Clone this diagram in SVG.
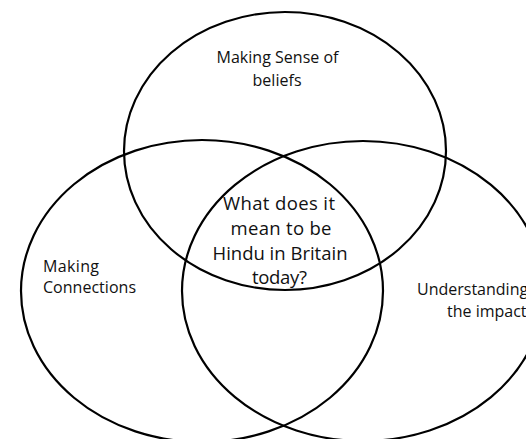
<svg xmlns="http://www.w3.org/2000/svg" width="526" height="439" viewBox="0 0 526 439">
  <style>
    .ring { fill: none; stroke: #000; stroke-width: 2.2; }
    .lbl { font-family: "Open Sans", "Liberation Sans", sans-serif; font-size: 16px; fill: #111; }
    .big { font-family: "Open Sans", "Liberation Sans", sans-serif; font-size: 18.5px; fill: #111; }
    .mid { text-anchor: middle; }
  </style>
  <rect x="0" y="0" width="526" height="439" fill="#fff"/>
  <g id="node-beliefs">
    <ellipse class="ring" cx="285" cy="151" rx="161" ry="139"/>
    <text class="lbl mid" x="277.5" y="63" textLength="122">Making Sense of</text>
    <text class="lbl mid" x="277" y="86" textLength="49">beliefs</text>
  </g>
  <g id="node-connections">
    <ellipse class="ring" cx="202" cy="291" rx="181" ry="151"/>
    <text class="lbl" x="43" y="272" textLength="56">Making</text>
    <text class="lbl" x="43" y="293" textLength="93">Connections</text>
  </g>
  <g id="node-impact">
    <ellipse class="ring" cx="363" cy="291" rx="181" ry="150"/>
    <text class="lbl" x="417" y="295">Understanding</text>
    <text class="lbl" x="447" y="317">the impact</text>
  </g>
  <g id="node-centre">
    <text class="big mid" x="279" y="210" textLength="112">What does it</text>
    <text class="big mid" x="281" y="235" textLength="101">mean to be</text>
    <text class="big mid" x="280" y="260" textLength="135">Hindu in Britain</text>
    <text class="big mid" x="279.5" y="284" textLength="55">today?</text>
  </g>
</svg>
